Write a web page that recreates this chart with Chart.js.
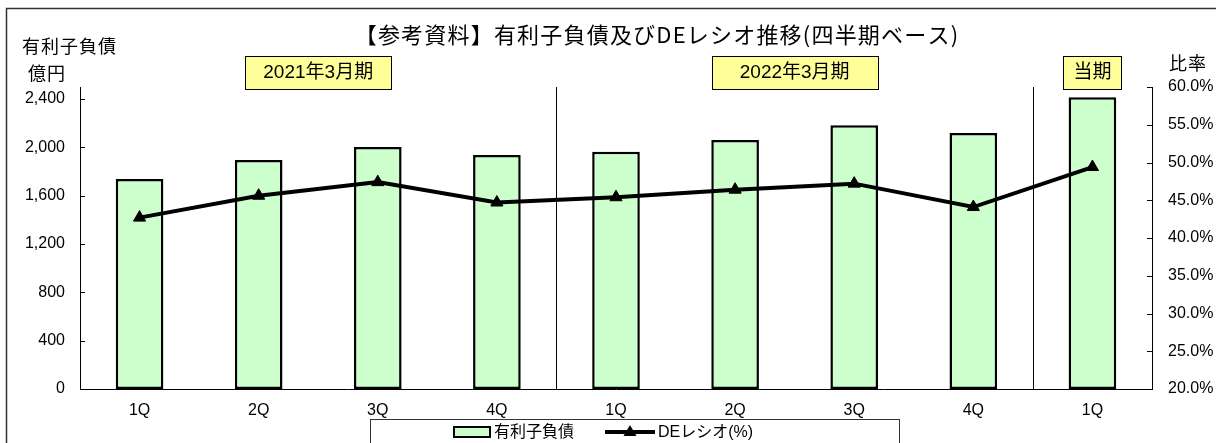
<!DOCTYPE html>
<html lang="ja">
<head>
<meta charset="utf-8">
<script src="https://cdn.jsdelivr.net/npm/chart.js@4/dist/chart.umd.min.js"></script>
<style>
  html, body { margin: 0; padding: 0; background: #fff; }
  #wrap { width: 1216px; height: 443px; }
</style>
</head>
<body>
<div id="wrap"><canvas id="chart" width="1216" height="443"></canvas></div>
<script>
// データ（億円 / %）
const quarters = ['1Q', '2Q', '3Q', '4Q', '1Q', '2Q', '3Q', '4Q', '1Q'];
const debt = [1738, 1896, 2003, 1937, 1965, 2061, 2183, 2119, 2415];
const deRatio = [42.7, 45.6, 47.4, 44.7, 45.4, 46.4, 47.2, 44.1, 49.4];

// 目盛
const debtTicks = [0, 400, 800, 1200, 1600, 2000, 2400];
const ratioTicks = [20, 25, 30, 35, 40, 45, 50, 55, 60];

// 期の見出し（先頭と末尾のインデックス）
const periodNames = ['2021年3月期', '2022年3月期', '当期'];
const periodStart = [0, 4, 8];
const periodEnd = [3, 7, 8];
const periodBoxW = [146, 166, 58];

const FONT = "'Liberation Sans', Arial, 'Noto Sans CJK JP', sans-serif";
const JP = "'Noto Sans CJK JP', sans-serif";

const decor = {
  id: 'decor',
  beforeDatasetsDraw(chart) {
    const { ctx, chartArea, scales } = chart;
    const x = scales.x;
    // 期の区切り線
    ctx.save();
    ctx.strokeStyle = '#000';
    ctx.lineWidth = 1;
    for (let i = 1; i < periodStart.length; i++) {
      const px = Math.round((x.getPixelForValue(periodStart[i] - 1) + x.getPixelForValue(periodStart[i])) / 2) + 0.5;
      ctx.beginPath();
      ctx.moveTo(px, chartArea.top);
      ctx.lineTo(px, chartArea.bottom);
      ctx.stroke();
    }
    ctx.restore();
  },
  afterDraw(chart) {
    const { ctx, chartArea, scales } = chart;
    const x = scales.x, y = scales.y, y1 = scales.y1;
    ctx.save();

    // 外枠
    ctx.strokeStyle = '#333';
    ctx.lineWidth = 1.5;
    ctx.strokeRect(6.5, 8.5, 1240, 460);

    // 目盛（内向き）
    ctx.strokeStyle = '#000';
    ctx.lineWidth = 1;
    y.ticks.forEach(t => {
      const py = Math.round(y.getPixelForValue(t.value)) + 0.5;
      ctx.beginPath();
      ctx.moveTo(chartArea.left, py);
      ctx.lineTo(chartArea.left + 5, py);
      ctx.stroke();
    });
    y1.ticks.forEach(t => {
      const py = Math.round(y1.getPixelForValue(t.value)) + 0.5;
      ctx.beginPath();
      ctx.moveTo(chartArea.right - 5, py);
      ctx.lineTo(chartArea.right, py);
      ctx.stroke();
    });

    // タイトル
    ctx.fillStyle = '#000';
    ctx.textBaseline = 'middle';
    ctx.textAlign = 'center';
    ctx.font = '22px ' + JP;
    ctx.letterSpacing = '1.2px';
    ctx.fillText('【参考資料】有利子負債及びDEレシオ推移(四半期ベース)', 657, 35);

    // 軸タイトル
    ctx.letterSpacing = '1px';
    ctx.textAlign = 'left';
    ctx.font = '18px ' + JP;
    ctx.fillText('有利子負債', 22, 46);
    ctx.fillText('億円', 28, 73);
    ctx.textAlign = 'right';
    ctx.fillText('比率', 1207, 63);
    ctx.letterSpacing = '0px';

    // 期の見出しボックス
    ctx.textAlign = 'center';
    periodNames.forEach((name, i) => {
      const cx = (x.getPixelForValue(periodStart[i]) + x.getPixelForValue(periodEnd[i])) / 2;
      const w = periodBoxW[i];
      const bx = Math.round(cx - w / 2) + 0.5;
      ctx.fillStyle = '#FFFF99';
      ctx.fillRect(bx, 56.5, w, 33);
      ctx.strokeStyle = '#000';
      ctx.lineWidth = 1;
      ctx.strokeRect(bx, 56.5, w, 33);
      ctx.fillStyle = '#000';
      ctx.font = '19px ' + FONT;
      ctx.fillText(name, cx, 73);
    });

    // 凡例
    const bar = chart.data.datasets.find(d => d.type === 'bar');
    const line = chart.data.datasets.find(d => d.type === 'line');
    ctx.strokeStyle = '#333';
    ctx.lineWidth = 1;
    ctx.strokeRect(370.5, 419.5, 529, 40);
    ctx.fillStyle = bar.backgroundColor;
    ctx.fillRect(454, 427, 36, 10);
    ctx.strokeStyle = '#000';
    ctx.lineWidth = 2;
    ctx.strokeRect(454, 427, 36, 10);
    ctx.beginPath();
    ctx.lineWidth = 4;
    ctx.moveTo(605, 432);
    ctx.lineTo(655, 432);
    ctx.stroke();
    ctx.fillStyle = '#000';
    ctx.beginPath();
    ctx.moveTo(630, 425);
    ctx.lineTo(636.5, 436);
    ctx.lineTo(623.5, 436);
    ctx.closePath();
    ctx.fill();
    ctx.textAlign = 'left';
    ctx.font = '16px ' + FONT;
    ctx.fillText(bar.label, 494, 433);
    ctx.fillText(line.label, 658, 433);

    ctx.restore();
  }
};

new Chart(document.getElementById('chart'), {
  data: {
    labels: quarters,
    datasets: [
      {
        type: 'line',
        label: 'DEレシオ(%)',
        data: deRatio,
        yAxisID: 'y1',
        order: 0,
        borderColor: '#000',
        borderWidth: 4,
        tension: 0,
        pointStyle: 'triangle',
        pointRadius: 7,
        pointBackgroundColor: '#000',
        pointBorderColor: '#000',
        pointBorderWidth: 1
      },
      {
        type: 'bar',
        label: '有利子負債',
        data: debt,
        yAxisID: 'y',
        order: 1,
        backgroundColor: '#CCFFCC',
        borderColor: '#000',
        borderWidth: 2.5,
        borderSkipped: false,
        categoryPercentage: 1,
        barPercentage: 0.4
      }
    ]
  },
  options: {
    responsive: false,
    animation: false,
    devicePixelRatio: 1,
    layout: { padding: { top: 87, left: 0, right: 0, bottom: 0 } },
    plugins: {
      legend: { display: false },
      title: { display: false },
      tooltip: { enabled: false }
    },
    scales: {
      x: {
        grid: { display: false, drawTicks: false },
        border: { display: true, color: '#000', width: 1 },
        ticks: { color: '#000', font: { family: FONT, size: 16 }, padding: 12, maxRotation: 0, autoSkip: false },
        afterFit(s) { s.height = 54; }
      },
      y: {
        position: 'left',
        min: 0,
        max: 2500,
        grid: { display: false, drawTicks: false },
        border: { display: true, color: '#000', width: 1 },
        ticks: {
          color: '#000',
          padding: 15,
          font: { family: FONT, size: 16 },
          callback: v => v.toLocaleString('en-US')
        },
        afterBuildTicks(s) { s.ticks = debtTicks.map(v => ({ value: v })); },
        afterFit(s) { s.width = 80; }
      },
      y1: {
        position: 'right',
        min: 20,
        max: 60,
        grid: { display: false, drawTicks: false },
        border: { display: true, color: '#000', width: 1 },
        ticks: {
          color: '#000',
          padding: 16,
          font: { family: FONT, size: 16 },
          callback: v => v.toFixed(1) + '%'
        },
        afterBuildTicks(s) { s.ticks = ratioTicks.map(v => ({ value: v })); },
        afterFit(s) { s.width = 64; }
      }
    }
  },
  plugins: [decor]
});
</script>
</body>
</html>
